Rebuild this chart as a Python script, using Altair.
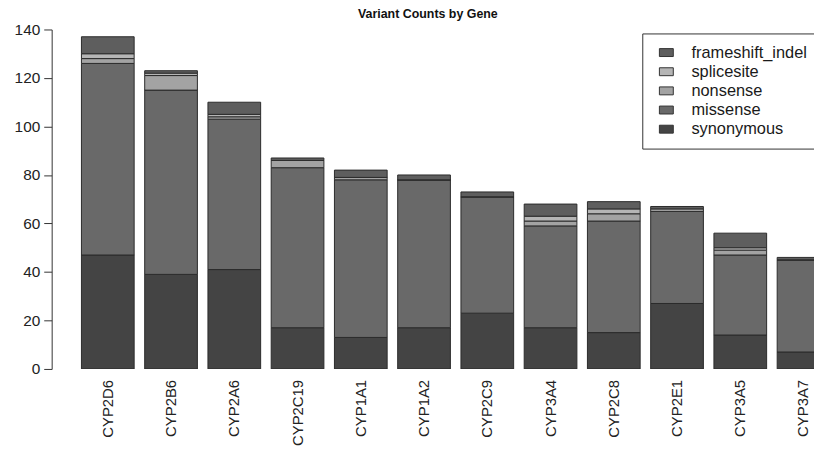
import altair as alt
import pandas as pd

genes = ["CYP2D6", "CYP2B6", "CYP2A6", "CYP2C19", "CYP1A1", "CYP1A2",
         "CYP2C9", "CYP3A4", "CYP2C8", "CYP2E1", "CYP3A5", "CYP3A7"]
synonymous = [47, 39, 41, 17, 13, 17, 23, 17, 15, 27, 14, 7]
missense = [79, 76, 62, 66, 65, 61, 48, 42, 46, 38, 33, 38]
nonsense = [2, 6, 1, 3, 1, 0, 0, 2, 3, 0, 2, 0]
splicesite = [2, 1, 1, 0, 0, 0, 0, 2, 2, 1, 1, 0]
frameshift_indel = [7, 1, 5, 1, 3, 2, 2, 5, 3, 1, 6, 1]

stack_types = ["synonymous", "missense", "nonsense", "splicesite", "frameshift_indel"]
series = [synonymous, missense, nonsense, splicesite, frameshift_indel]
legend_types = ["frameshift_indel", "splicesite", "nonsense", "missense", "synonymous"]
legend_colors = ["#5e5e5e", "#b5b5b5", "#a3a3a3", "#696969", "#444444"]
y_ticks = [0, 20, 40, 60, 80, 100, 120, 140]

rows = []
for i, g in enumerate(genes):
    for k, (t, vals) in enumerate(zip(stack_types, series)):
        rows.append({"gene": g, "type": t, "count": vals[i], "ord": k})
df = pd.DataFrame(rows)

FONT = "Liberation Sans, Arial, Helvetica"

chart = alt.Chart(df).mark_bar(
    clip=True, stroke="#2b2b2b", strokeWidth=1
).encode(
    x=alt.X("gene:N", sort=genes,
            scale=alt.Scale(domain=genes, range=[0, 814],
                            paddingInner=0.1667, paddingOuter=0.4707),
            axis=alt.Axis(title=None, labelAngle=-90, domain=False, ticks=False,
                          labelPadding=10.5, labelFontSize=15, labelColor="#222",
                          labelFont=FONT)),
    y=alt.Y("count:Q", stack="zero",
            scale=alt.Scale(domain=[0, 140], nice=False),
            axis=alt.Axis(title=None, values=y_ticks, grid=False, tickSize=8,
                          labelPadding=4, labelFontSize=15.5, labelColor="#222",
                          labelFont=FONT, domainColor="#333", tickColor="#333")),
    color=alt.Color("type:N",
                    scale=alt.Scale(domain=legend_types, range=legend_colors),
                    legend=alt.Legend(title=None, orient="none", legendX=595, legendY=4,
                                      padding=11, symbolOffset=5, labelOffset=17,
                                      rowPadding=2.3, labelFontSize=16.5, labelFont=FONT,
                                      labelColor="#1a1a1a",
                                      symbolType="M-1,-0.57H1V0.57H-1Z", symbolSize=196,
                                      symbolStrokeColor="#333", symbolStrokeWidth=1,
                                      symbolOpacity=1,
                                      strokeColor="#333", fillColor="white")),
    order=alt.Order("ord:Q", sort="ascending"),
).properties(
    width=768, height=342,
    padding={"left": 44, "top": 20, "right": 0, "bottom": 79},
    autosize=alt.AutoSizeParams(type="none"),
    title=alt.TitleParams("Variant Counts by Gene", fontSize=12.5, fontWeight="bold",
                          font=FONT, anchor="middle", frame="group", offset=2, dx=-5,
                          color="#111"),
).configure_view(stroke=None)

chart.save("out.html", embed_options={"renderer": "svg", "actions": False})
